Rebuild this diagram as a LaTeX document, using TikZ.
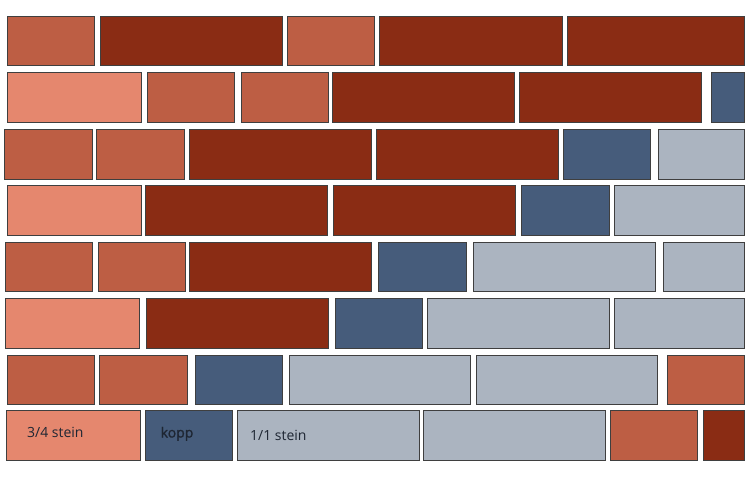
\documentclass[tikz,border=0pt]{standalone}
\usepackage{fontspec}
\setmainfont{Open Sans}
\newfontfamily\kfont[FakeBold=1.2]{Open Sans}
\definecolor{cL}{HTML}{E5876E}
\definecolor{cM}{HTML}{BD5E44}
\definecolor{cD}{HTML}{8A2C14}
\definecolor{cB}{HTML}{465C7B}
\definecolor{cG}{HTML}{ABB4C0}
\definecolor{cS}{HTML}{3F3F3F}
\definecolor{cT}{HTML}{1E2633}
\tikzset{
  brick/.style={draw=cS, line width=0.8pt},
  bL/.style={brick, fill=cL},
  bM/.style={brick, fill=cM},
  bD/.style={brick, fill=cD},
  bB/.style={brick, fill=cB},
  bG/.style={brick, fill=cG},
  lbl/.style={anchor=base west, inner sep=0pt, text=cT, font=\fontsize{14}{16}\selectfont}
}
\newcommand{\rowbricks}[3]{%
  \foreach \a/\b/\s in {#3}{\draw[\s] (\a,#1) rectangle (\b,#2);}}
\begin{document}
\begin{tikzpicture}[x=1pt,y=-1pt]
\useasboundingbox (0,0) rectangle (750,480);
\fill[white] (0,0) rectangle (750,480);
\rowbricks{16}{65}{7/94/bM,100/282/bD,287/374/bM,379/562/bD,567/744/bD}
\rowbricks{72}{122}{7/141/bL,147/234/bM,241/328/bM,332/514/bD,519/701/bD,711/744/bB}
\rowbricks{129}{179}{4/92/bM,96/184/bM,189/371/bD,376/558/bD,563/650/bB,658/744/bG}
\rowbricks{185}{235}{7/141/bL,145/327/bD,333/515/bD,521/609/bB,614/744/bG}
\rowbricks{242}{291}{5/92/bM,98/185/bM,189/371/bD,378/466/bB,473/655/bG,663/744/bG}
\rowbricks{298}{348}{5/139/bL,146/328/bD,335/422/bB,427/609/bG,614/744/bG}
\rowbricks{355}{404}{7/94/bM,99/187/bM,195/282/bB,289/470/bG,476/657/bG,667/744/bM}
\rowbricks{410}{460}{6/140/bL,145/232/bB,237/419/bG,423/605/bG,610/697/bM,703/744/bD}
\node[lbl] (l34) at (27,437.5) {3/4 stein};
\node[lbl, font=\fontsize{14}{16}\selectfont\kfont] (lkopp) at (160.5,437.5) {kopp};
\node[lbl] (l11) at (250,440.5) {1/1 stein};
\end{tikzpicture}
\end{document}
